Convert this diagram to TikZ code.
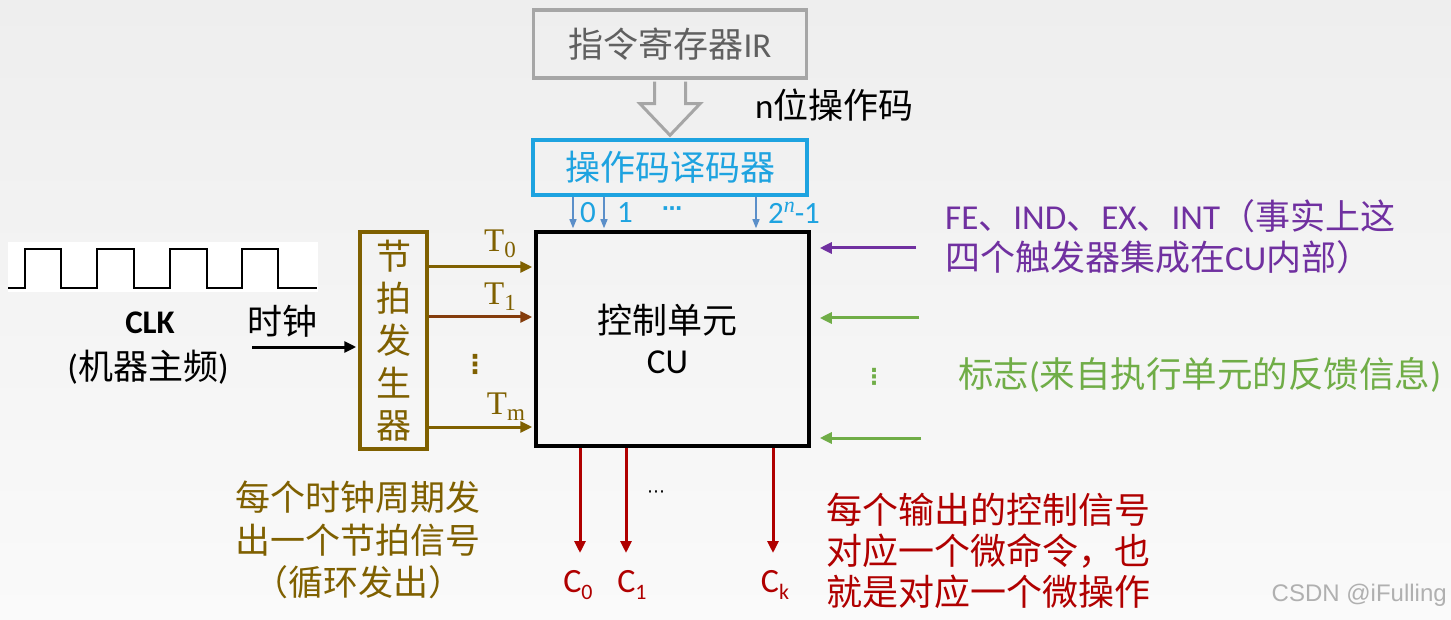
\documentclass[tikz,border=0pt]{standalone}
\usepackage{fontspec}
\setmainfont{Carlito}
\newfontfamily\cjk{Noto Sans CJK SC}
\newfontfamily\wmfont{Liberation Sans}
\newfontfamily\serf{Liberation Serif}
\newfontfamily\djv{DejaVu Sans}
\usetikzlibrary{arrows.meta,calc}
\definecolor{bgtop}{HTML}{EEEEEE}
\definecolor{bgbot}{HTML}{FAFAFA}
\definecolor{irgray}{HTML}{A6A6A6}
\definecolor{irtext}{HTML}{606060}
\definecolor{decblue}{HTML}{1EA3E0}
\definecolor{smblue}{HTML}{5B8FC9}
\definecolor{olive}{HTML}{7F6000}
\definecolor{rust}{HTML}{843C0C}
\definecolor{purp}{HTML}{7030A0}
\definecolor{grn}{HTML}{70AD47}
\definecolor{dred}{HTML}{B00000}
\definecolor{wmgray}{HTML}{B0B0B0}
\newcommand\setfs[2]{\fontsize{#1}{#2}\selectfont}
\newcommand\tsub[2]{{\serf\setfs{33}{33}#1\raisebox{-6pt}{\setfs{23}{23}#2}}}
\newcommand\csub[2]{#1\raisebox{-7pt}{\setfs{22}{22}#2}}
\begin{document}
\begin{tikzpicture}[x=1pt,y=-1pt,
  box/.style={draw, line width=3.5pt, inner sep=0pt},
  tip/.style={-{Triangle[length=12pt,width=11pt]}, line width=3pt},
  smtip/.style={-{Triangle[length=9pt,width=7pt]}, line width=1.3pt, draw=smblue, color=smblue},
  hollow/.style={draw=irgray, line width=3pt, line join=miter},
  txt/.style={inner sep=0pt, font=\cjk\setfs{35}{42}},
  lab/.style={inner sep=0pt, font=\setfs{31}{34}},
]
\useasboundingbox (0,0) rectangle (1451,620);
\shade[top color=bgtop, bottom color=bgbot] (0,0) rectangle (1451,620);

% main boxes
\node[box, draw=irgray, minimum width=273pt, minimum height=68pt, text=irtext, font=\cjk\setfs{35}{42}] (ir) at (670,44) {指令寄存器{\fontspec{Carlito}IR}};
\node[box, draw=decblue, minimum width=274pt, minimum height=55pt, text=decblue, font=\cjk\setfs{35}{42}] (dec) at (670,167.5) {操作码译码器};
\node[box, draw=black, minimum width=273pt, minimum height=214pt, align=center, font=\cjk\setfs{35}{40}] (cu) at (672.5,339) {\hspace*{-10pt}控制单元\\\hspace*{-10pt}{\fontspec{Carlito}CU}};
\node[box, draw=olive, minimum width=67pt, minimum height=217pt, align=center, text=olive, font=\cjk\setfs{35}{42.3}] (gen) at (393.5,340.5) {节\\拍\\发\\生\\器};

% hollow arrow IR -> decoder
\draw[hollow] ($(ir.south)+(-15.5,2)$) |- ($(ir.south)+(-30,24)$) -- ($(dec.north)+(0,-3)$) -- ($(ir.south)+(30,24)$) -| ($(ir.south)+(15.5,2)$);
\node[txt, anchor=west] (nbit) at (755,105) {{\fontspec{Carlito}n}位操作码};

% decoder outputs
\coordinate (d0) at (573,0);
\coordinate (d1) at (604,0);
\coordinate (dn) at (756,0);
\draw[smtip] (dec.south -| d0) -- ($(cu.north -| d0)+(0,-2)$);
\draw[smtip] (dec.south -| d1) -- ($(cu.north -| d1)+(0,-2)$);
\draw[smtip] (dec.south -| dn) -- ($(cu.north -| dn)+(0,-2)$);
\node[lab, text=decblue] (l0) at (588,213) {0};
\node[lab, text=decblue] (l1) at (625,213) {1};
\node[inner sep=0pt, text=decblue, font=\djv\bfseries\setfs{20}{20}] (ldots) at (672,211) {⋯};
\node[lab, text=decblue] (ln) at (794,213) {2\raisebox{11pt}{\serf\itshape\setfs{22}{22}n}-1};

% clock waveform
\fill[white] (8,242) rectangle (318,292);
\draw[line width=2.2pt, line join=miter] (8,288) -- (25,288) -- (25,249) -- (61,249) -- (61,288) -- (97,288) -- (97,249) -- (134,249) -- (134,288) -- (170,288) -- (170,249) -- (207,249) -- (207,288) -- (242,288) -- (242,249) -- (278,249) -- (278,288) -- (317,288);
\node[inner sep=0pt, font=\setfs{33}{33}\bfseries] (clk) at (150,323) {CLK};
\node[txt] (clk2) at (148,367) {{\fontspec{Carlito}\setfs{35}{35}(}机器主频{\fontspec{Carlito}\setfs{35}{35})}};
\node[txt] (sz) at (282,321) {时钟};
\coordinate (ck) at (252,347);
\draw[tip] (ck) -- ($(ck -| gen.west)+(-2,0)$);

% T outputs
\coordinate (t0) at (0,267);
\coordinate (t1) at (0,317);
\coordinate (tm) at (0,427);
\draw[tip, draw=olive, color=olive] (gen.east |- t0) -- ($(cu.west |- t0)+(-2,0)$);
\draw[tip, draw=rust, color=rust] (gen.east |- t1) -- ($(cu.west |- t1)+(-2,0)$);
\draw[tip, draw=olive, color=olive] (gen.east |- tm) -- ($(cu.west |- tm)+(-2,0)$);
\node[inner sep=0pt, text=olive] (T0) at (500,244) {\tsub{T}{0}};
\node[inner sep=0pt, text=olive] (T1) at (500,297) {\tsub{T}{1}};
\node[inner sep=0pt, text=olive, font=\djv\bfseries\setfs{26}{26}] (Tv) at (475,364) {⋮};
\node[inner sep=0pt, text=olive] (Tm) at (506,407) {\tsub{T}{m}};

% right inputs
\coordinate (f1) at (916,248);
\coordinate (f2) at (919,318);
\coordinate (f3) at (921,438);
\draw[tip, draw=purp, color=purp] (f1) -- ($(f1 -| cu.east)+(9,0)$);
\draw[tip, draw=grn, color=grn] (f2) -- ($(f2 -| cu.east)+(9,0)$);
\draw[tip, draw=grn, color=grn] (f3) -- ($(f3 -| cu.east)+(9,0)$);
\node[inner sep=0pt, text=grn, font=\djv\bfseries\setfs{22}{22}] (gv) at (874,377) {⋮};
\node[txt, anchor=west, align=left, text=purp, font=\cjk\setfs{35}{41}] (fe) at (945,237) {{\fontspec{Carlito}FE}、{\fontspec{Carlito}IND}、{\fontspec{Carlito}EX}、{\fontspec{Carlito}INT}（事实上这\\四个触发器集成在{\fontspec{Carlito}CU}内部）};
\node[txt, anchor=west, text=grn, font=\cjk\setfs{35.5}{42}] (flag) at (958,375) {标志{\fontspec{Carlito}(}来自执行单元的反馈信息{\fontspec{Carlito})}};

% bottom outputs
\coordinate (c0) at (580,553);
\coordinate (c1) at (626,553);
\coordinate (ck2) at (773,553);
\draw[tip, draw=dred, color=dred] (cu.south -| c0) -- (c0);
\draw[tip, draw=dred, color=dred] (cu.south -| c1) -- (c1);
\draw[tip, draw=dred, color=dred] (cu.south -| ck2) -- (ck2);
\node[inner sep=0pt, font=\djv\setfs{18}{18}] (bdots) at (656,494) {⋯};
\node[inner sep=0pt, text=dred, font=\setfs{34}{34}] (C0) at (578,585) {\csub{C}{0}};
\node[inner sep=0pt, text=dred, font=\setfs{34}{34}] (C1) at (632,585) {\csub{C}{1}};
\node[inner sep=0pt, text=dred, font=\setfs{34}{34}] (Ck) at (775,585) {\csub{C}{k}};

\node[txt, align=center, text=olive, font=\cjk\setfs{35}{42.5}] (note1) at (358,540) {每个时钟周期发\\出一个节拍信号\\（循环发出）};
\node[txt, anchor=west, align=left, text=dred, font=\cjk\setfs{36}{41}] (note2) at (826,551) {每个输出的控制信号\\对应一个微命令，也\\就是对应一个微操作};

\node[inner sep=0pt, anchor=east, text=wmgray, font=\wmfont\setfs{24}{24}] (wm) at (1447,595) {CSDN @iFulling};
\end{tikzpicture}
\end{document}
